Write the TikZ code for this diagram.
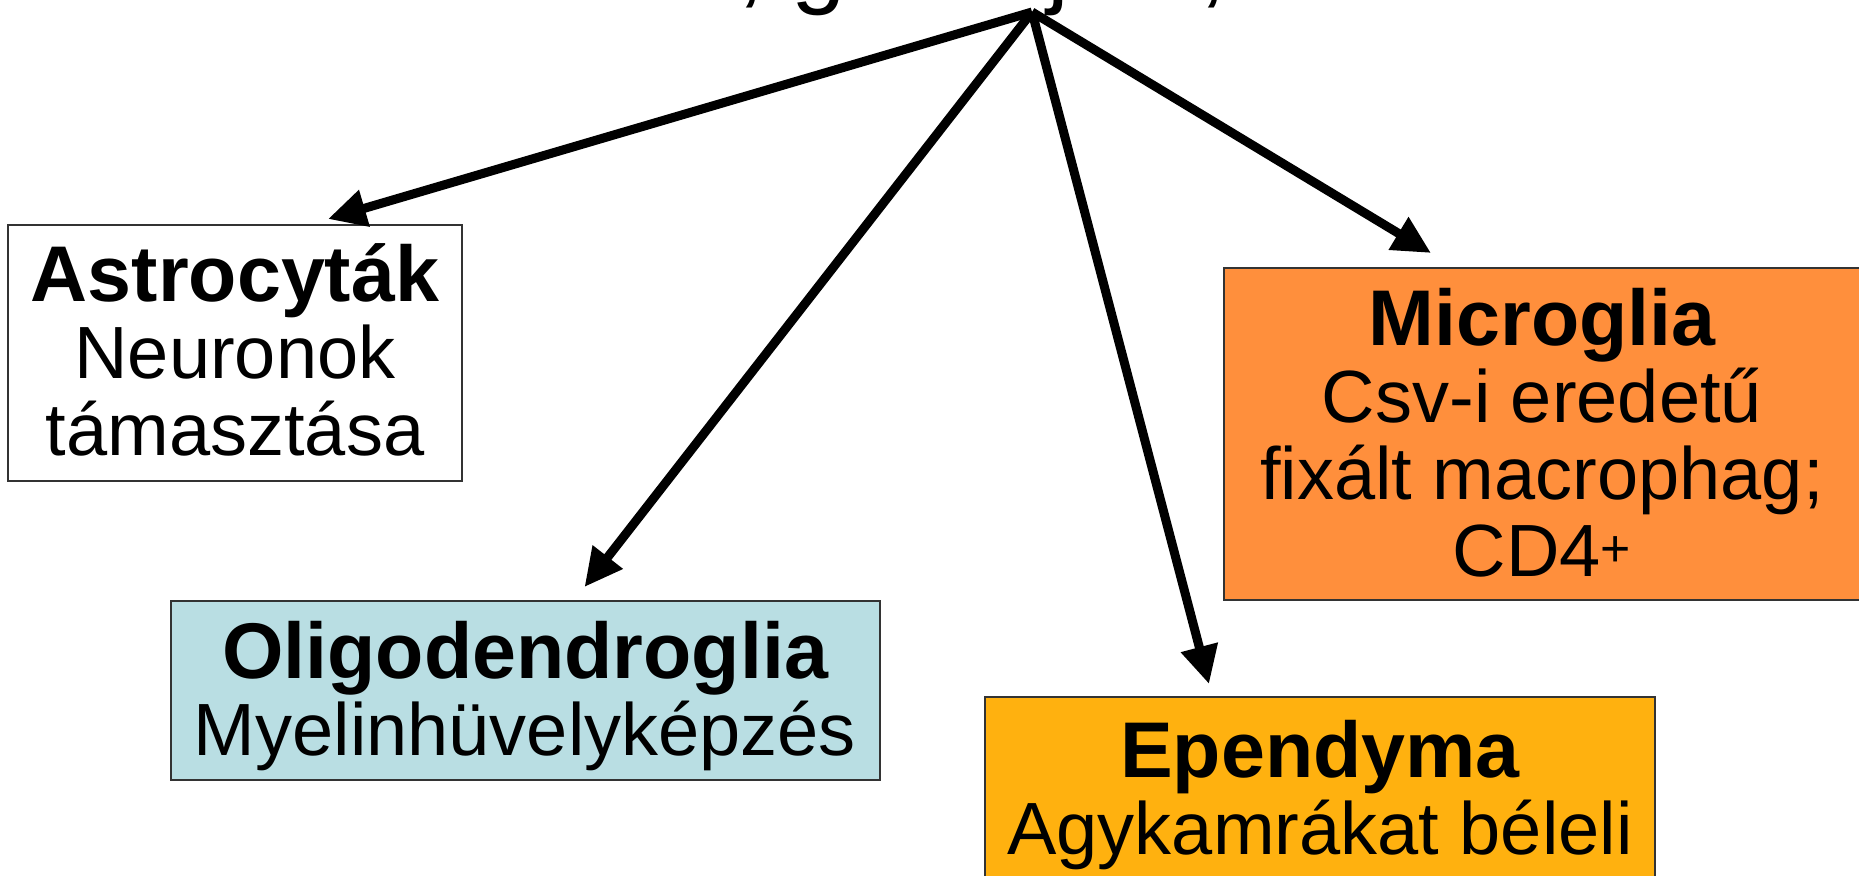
\documentclass[tikz,border=0pt]{standalone}
\usepackage{fontspec}
\setmainfont{Liberation Sans}
\usetikzlibrary{arrows.meta,calc}
\definecolor{oligofill}{HTML}{B9DEE3}
\definecolor{microfill}{HTML}{FF8F3C}
\definecolor{ependfill}{HTML}{FFB10F}
\definecolor{boxedge}{HTML}{333333}
\newcommand\boldhead[1]{{\fontsize{79}{77}\selectfont\bfseries #1}}
\begin{document}
\begin{tikzpicture}[x=1pt,y=-1pt,
  box/.style={draw=boxedge, line width=2pt, rectangle, inner sep=0pt, outer sep=0pt, anchor=north west},
  txt/.style={align=center, anchor=base, inner sep=0pt, font=\fontsize{74}{77}\selectfont},
  arr/.style={line width=9pt, -{Triangle[length=38pt,width=36pt]}}]
\useasboundingbox (0,0) rectangle (1859,875);
\clip (0,0) rectangle (1859,875);
\fill[white] (0,0) rectangle (1859,875);

% title line (only its lower part shows)
\node[anchor=base west, inner sep=0pt, font=\fontsize{98}{110}\selectfont] (title) at (312,-4) {Neuronok, gliasejtek, stb.};
\coordinate (apex) at (1032,12);

% boxes
\node[box, minimum width=454pt, minimum height=256pt] (astro) at (8,225) {};
\node[box, fill=oligofill, minimum width=709pt, minimum height=179pt] (oligo) at (171,601) {};
\node[box, fill=microfill, minimum width=650pt, minimum height=332pt] (micro) at (1224,268) {};
\node[box, fill=ependfill, minimum width=670pt, minimum height=200pt] (epend) at (985,697) {};

% texts (anchor base = baseline of the last line)
\node[txt] (astrot) at (235,455) {\boldhead{Astrocyták}\\Neuronok\\támasztása};
\node[txt] (oligot) at (525,755) {\boldhead{Oligodendroglia}\\Myelinhüvelyképzés};
\node[txt] (microt) at (1542,576) {\boldhead{Microglia}\\Csv-i eredetű\\fixált macrophag;\\CD4\textsuperscript{+}};
\node[txt] (ependt) at (1320,854) {\boldhead{Ependyma}\\Agykamrákat béleli};

% arrow tips
\coordinate (tA) at ([xshift=93pt, yshift=6pt]astro.north);
\coordinate (tO) at ([xshift=59pt, yshift=14pt]oligo.north);
\coordinate (tE) at ([xshift=-111pt, yshift=13pt]epend.north);
\coordinate (tM) at ([xshift=207pt, yshift=15pt]micro.north west);

\draw[arr] (apex) -- (tA);
\draw[arr] (apex) -- (tO);
\draw[arr] (apex) -- (tE);
\draw[arr] (apex) -- (tM);
\end{tikzpicture}
\end{document}
